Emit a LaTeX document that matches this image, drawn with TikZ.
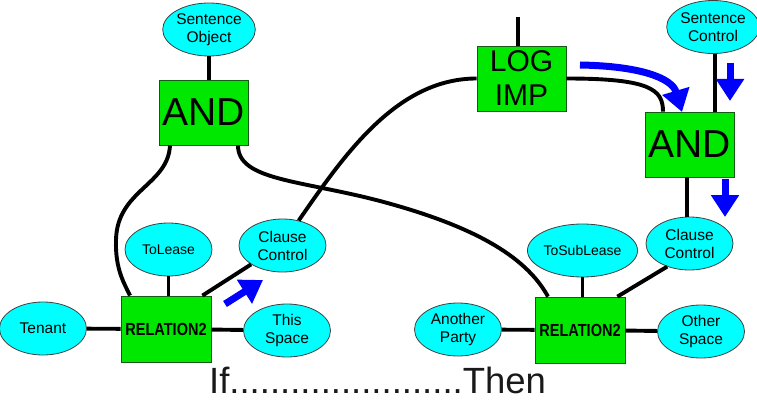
\documentclass[tikz,border=0pt]{standalone}
\usepackage{fontspec}
\usepackage{graphicx}
\setmainfont{Liberation Sans}
\usetikzlibrary{shapes.geometric,arrows.meta}
\definecolor{ellfill}{RGB}{0,255,255}
\definecolor{boxfill}{RGB}{0,232,0}
\definecolor{boxline}{RGB}{20,90,20}
\definecolor{arrblue}{RGB}{0,0,255}
\tikzset{
  ell/.style={ellipse, draw=black!75, line width=0.8pt, fill=ellfill, minimum width=87pt, minimum height=53pt, inner sep=0pt, align=center, font=\fontsize{15.5}{18}\selectfont},
  smallell/.style={ell, font=\fontsize{14}{17}\selectfont},
  andbox/.style={rectangle, draw=boxline, line width=0.8pt, fill=boxfill, minimum width=89pt, minimum height=65pt, inner sep=0pt, align=center, font=\fontsize{39}{42}\selectfont},
  logbox/.style={andbox, font=\fontsize{30}{34}\selectfont},
  relbox/.style={andbox, minimum width=90pt, minimum height=66pt, font=\fontsize{17.5}{20}\selectfont\bfseries},
  conn/.style={line width=3.9pt, black},
  bluearrow/.style={line width=7pt, arrblue, -{Triangle[length=22pt,width=27pt]}}
}
\begin{document}
\begin{tikzpicture}[x=1pt,y=-1pt]
\useasboundingbox (0,0) rectangle (757,401);

% nodes
\node[ell] (so) at (209,29.5) {Sentence\\Object};
\node[andbox] (andL) at (203.5,112.5) {AND};
\node[logbox] (logimp) at (521.5,78.5) {LOG\\IMP};
\node[ell] (sc) at (713,27) {Sentence\\Control};
\node[andbox] (andR) at (689.5,144.5) {AND};

\node[ell] (tenant) at (43,328.5) {Tenant};
\node[relbox] (relL) at (166,329) {\scalebox{0.83}[1]{RELATION2}};
\node[smallell] (tolease) at (168.5,249.5) {ToLease};
\node[ell] (ccL) at (282.5,245.5) {Clause\\Control};
\node[ell] (thisspace) at (287,330.5) {This\\Space};

\node[ell] (another) at (458,329.5) {Another\\Party};
\node[relbox] (relR) at (580,330) {\scalebox{0.83}[1]{RELATION2}};
\node[smallell] (tosub) at (582.5,250.5) {ToSubLease};
\node[ell] (ccR) at (689.5,243.5) {Clause\\Control};
\node[ell] (other) at (701,331.5) {Other\\Space};

\node[anchor=base, inner sep=0pt, font=\fontsize{36.5}{40}\selectfont, text=black!90] (ifthen) at (377.5,393) {If.......................Then};

% connectors
\coordinate (ltop) at (518,17);
\draw[conn] (ltop) -- (ltop |- logimp.north);
\draw[conn] (so.south) -- (so.south |- andL.north);
\draw[conn] ([xshift=2pt]sc.south) -- ([xshift=2pt]sc.south |- andR.north);
\draw[conn] (logimp.east) .. controls +(84,0) and +(0,-22) .. ([xshift=-26.5pt]andR.north);
\draw[conn] ([xshift=-2.5pt]andR.south) -- ([xshift=-2.5pt]andR.south |- ccR.north);
\draw[conn] ([xshift=-33.5pt]andL.south) .. controls +(-2,40) and +(1,-50) .. (116,240) .. controls +(-1,30) and +(-5,-11) .. ([xshift=-36pt]relL.north);
\draw[conn] ([xshift=34.5pt]andL.south) .. controls +(0,35) and +(-80,-21) .. (380,201) .. controls +(90,24) and +(-23,-42) .. ([xshift=-32pt]relR.north);
\draw[conn] (ccL.57) .. controls +(45,-65) and +(-80,0) .. (logimp.west);
\draw[conn] (tolease.south) -- (tolease.south |- relL.north);
\draw[conn] ([xshift=-9pt]relL.north east) -- (ccL.211);
\draw[conn] (tenant) -- (relL);
\draw[conn] (relL) -- (thisspace);
\draw[conn] (tosub.south) -- (tosub.south |- relR.north);
\draw[conn] ([xshift=-8pt]relR.north east) -- (ccR.226);
\draw[conn] (another) -- (relR);
\draw[conn] (relR) -- (other);

% blue arrows
\coordinate (b1s) at (580,65);
\coordinate (b1e) at (682,112);
\draw[bluearrow] (b1s) .. controls (640,66) and (672,78) .. (b1e);
\coordinate (b2s) at (730,63);
\coordinate (b2e) at (730,101);
\draw[bluearrow] (b2s) -- (b2e);
\coordinate (b3s) at (725,179);
\coordinate (b3e) at (725,217);
\draw[bluearrow] (b3s) -- (b3e);
\coordinate (b4s) at (225,304);
\coordinate (b4e) at (263,280);
\draw[bluearrow] (b4s) -- (b4e);
\end{tikzpicture}
\end{document}
